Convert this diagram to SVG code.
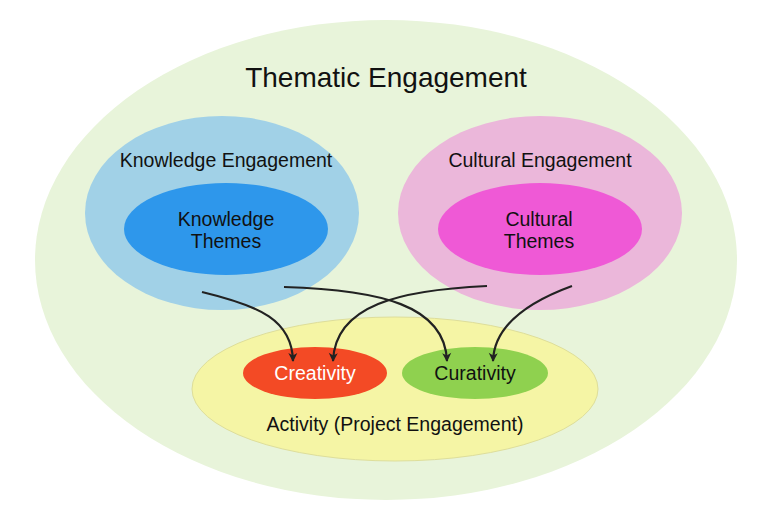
<svg xmlns="http://www.w3.org/2000/svg" width="770" height="518" viewBox="0 0 770 518">
<defs>
<marker id="ah" markerWidth="12" markerHeight="12" refX="9" refY="6" orient="auto" markerUnits="userSpaceOnUse">
<path d="M1,1.5 L10,6 L1,10.5 L3.5,6 Z" fill="#222"/>
</marker>
<style>
text{font-family:"Liberation Sans",Arial,sans-serif;fill:#111;text-anchor:middle}
.c{fill:none;stroke:#222;stroke-width:2.2;marker-end:url(#ah)}
</style>
</defs>
<rect width="770" height="518" fill="#fff"/>
<g id="thematic">
<ellipse cx="386" cy="260" rx="351" ry="240" fill="#e8f4da"/>
<text x="386" y="87" font-size="28">Thematic Engagement</text>
</g>
<g id="knowledge-engagement">
<ellipse cx="222" cy="213" rx="137" ry="97" fill="#a1d1e7"/>
<text x="226" y="167" font-size="19.5">Knowledge Engagement</text>
</g>
<g id="knowledge-themes">
<ellipse cx="226" cy="229" rx="102" ry="46" fill="#2e97eb"/>
<text x="226" y="226" font-size="19.5">Knowledge</text>
<text x="226" y="248" font-size="19.5">Themes</text>
</g>
<g id="cultural-engagement">
<ellipse cx="540" cy="213" rx="142" ry="97" fill="#ebb7da"/>
<text x="540" y="167" font-size="19.5">Cultural Engagement</text>
</g>
<g id="cultural-themes">
<ellipse cx="540" cy="229" rx="102" ry="46" fill="#ef59d6"/>
<text x="539" y="226" font-size="19.5">Cultural</text>
<text x="539" y="248" font-size="19.5">Themes</text>
</g>
<g id="activity">
<ellipse cx="395" cy="389" rx="203" ry="72" fill="#f5f5a5" stroke="#dede9a" stroke-width="1"/>
<text x="395" y="431" font-size="19.5">Activity (Project Engagement)</text>
</g>
<g id="creativity">
<ellipse cx="315" cy="373" rx="72" ry="26" fill="#f34a25"/>
<text x="315" y="380" font-size="19.5" style="fill:#fff">Creativity</text>
</g>
<g id="curativity">
<ellipse cx="475" cy="373" rx="73" ry="26" fill="#8fd14f"/>
<text x="475" y="380" font-size="19.5">Curativity</text>
</g>
<g id="connectors">
<path class="c" d="M202,292 C260,306 292,320 293,361"/>
<path class="c" d="M284,287 C380,290 445,305 447,361"/>
<path class="c" d="M487,286 C400,290 335,305 333,361"/>
<path class="c" d="M572,286 C520,305 494,330 493,361"/>
</g>
</svg>
